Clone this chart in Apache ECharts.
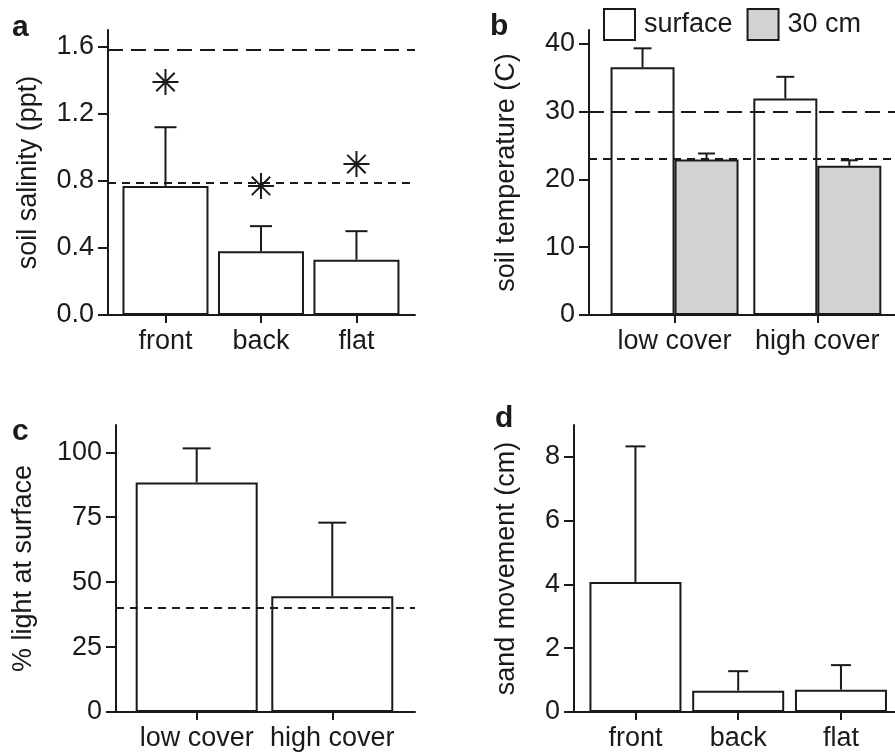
<html>
<head>
<meta charset="utf-8">
<script src="https://cdn.jsdelivr.net/npm/echarts@6/dist/echarts.min.js"></script>
<style>
  body { margin: 0; background: #fff; }
  #main { width: 895px; height: 752px; }
</style>
</head>
<body>
<div id="main"></div>
<script>
  // panel a - salinity
  var dunes = ['front', 'back', 'flat'];
  var salinity = [0.77, 0.38, 0.33];
  var salinitySE = [0.35, 0.15, 0.17];
  var salinityStar = [1.39, 0.77, 0.90];
  var salinityRefs = [1.58, 0.79];
  // panel b - temperature
  var covers = ['low cover', 'high cover'];
  var tempSurface = [36.5, 31.9];
  var tempSurfaceSE = [2.8, 3.2];
  var temp30 = [22.9, 22.0];
  var temp30SE = [0.9, 0.8];
  var tempRefs = [30, 23];
  // panel c - light
  var light = [88.4, 44.6];
  var lightSE = [13.1, 28.3];
  var lightRef = 40;
  // panel d - sand movement
  var sand = [4.08, 0.67, 0.70];
  var sandSE = [4.25, 0.61, 0.77];

  var ink = '#1a1a1a';
  var fnt = "'Liberation Sans', Arial, sans-serif";
  var fs = 27;

  function pairs(vals) {
    return vals.map(function (v, i) { return [i, v]; });
  }
  function triples(vals, se) {
    return vals.map(function (v, i) { return [i, v, se[i]]; });
  }

  function errorBars(idx, vals, se, cap, dx) {
    return {
      type: 'custom',
      xAxisIndex: idx, yAxisIndex: idx,
      z: 5,
      silent: true,
      data: triples(vals, se),
      renderItem: function (params, api) {
        var x = api.value(0), m = api.value(1), s = api.value(2);
        var p0 = api.coord([x, m]);
        var p1 = api.coord([x, m + s]);
        var st = { stroke: ink, lineWidth: 2 };
        return {
          type: 'group',
          children: [
            { type: 'line', shape: { x1: p0[0] + dx, y1: p0[1], x2: p1[0] + dx, y2: p1[1] }, style: st },
            { type: 'line', shape: { x1: p1[0] + dx - cap / 2, y1: p1[1], x2: p1[0] + dx + cap / 2, y2: p1[1] }, style: st }
          ]
        };
      }
    };
  }

  function refLines(vals, types) {
    return {
      silent: true,
      symbol: 'none',
      label: { show: false },
      data: vals.map(function (v, i) {
        return { yAxis: v, lineStyle: { color: ink, width: 2, type: types[i] } };
      })
    };
  }

  function xAx(idx, names, min, max) {
    var ticks = names.map(function (n, i) { return i; });
    return {
      type: 'value', gridIndex: idx, min: min, max: max,
      splitLine: { show: false },
      axisLine: { onZero: false, lineStyle: { color: ink, width: 2 } },
      axisTick: { show: true, length: 8, customValues: ticks, lineStyle: { color: ink, width: 2 } },
      axisLabel: {
        customValues: ticks, margin: 13, color: ink, fontSize: fs, fontFamily: fnt,
        formatter: function (v) { return names[Math.round(v)]; }
      }
    };
  }

  function yAx(idx, name, gap, max, ticks, dec) {
    return {
      type: 'value', gridIndex: idx, min: 0, max: max,
      name: name, nameLocation: 'middle', nameGap: gap,
      nameTextStyle: { color: ink, fontSize: fs, fontFamily: fnt },
      splitLine: { show: false },
      axisLine: { show: true, onZero: false, lineStyle: { color: ink, width: 2 } },
      axisTick: { show: true, length: 10, customValues: ticks, lineStyle: { color: ink, width: 2 } },
      axisLabel: {
        customValues: ticks, margin: 14, color: ink, fontSize: fs, fontFamily: fnt,
        formatter: function (v) { return v.toFixed(dec); }
      }
    };
  }

  var barStyle = { color: '#fff', borderColor: ink, borderWidth: 2 };
  var grayStyle = { color: '#d2d2d2', borderColor: ink, borderWidth: 2 };
  var starPath = 'path://M12,0V24M0,12H24M3.5,3.5L20.5,20.5M3.5,20.5L20.5,3.5';

  var myChart = echarts.init(document.getElementById('main'));
  myChart.setOption({
    animation: false,
    textStyle: { fontFamily: fnt },
    title: [
      { text: 'a', left: 12, top: 13 },
      { text: 'b', left: 490, top: 12 },
      { text: 'c', left: 12, top: 417 },
      { text: 'd', left: 495, top: 404 }
    ].map(function (t) {
      t.padding = 0;
      t.textStyle = { fontSize: 30, fontWeight: 'bold', color: ink, fontFamily: fnt };
      return t;
    }),
    legend: {
      left: 603, top: 8, padding: 0,
      itemWidth: 31, itemHeight: 31, itemGap: 14,
      icon: 'rect',
      data: ['surface', '30 cm'],
      textStyle: { fontSize: fs, color: ink, fontFamily: fnt, padding: [0, 0, 0, 4] }
    },
    grid: [
      { left: 108, top: 30, width: 307, height: 285 },
      { left: 589, top: 30, width: 306, height: 285 },
      { left: 116, top: 425, width: 299, height: 287 },
      { left: 574, top: 425, width: 321, height: 287 }
    ],
    xAxis: [
      xAx(0, dunes, -0.602, 2.613),
      xAx(1, covers, -0.599, 1.544),
      xAx(2, covers, -0.595, 1.61),
      xAx(3, dunes, -0.598, 2.526)
    ],
    yAxis: [
      yAx(0, 'soil salinity (ppt)', 66, 1.7, [0, 0.4, 0.8, 1.2, 1.6], 1),
      yAx(1, 'soil temperature (C)', 69, 42, [0, 10, 20, 30, 40], 0),
      yAx(2, '% light at surface', 79, 110.5, [0, 25, 50, 75, 100], 0),
      yAx(3, 'sand movement (cm)', 54, 9, [0, 2, 4, 6, 8], 0)
    ],
    series: [
      {
        name: 'salinity', type: 'bar', xAxisIndex: 0, yAxisIndex: 0,
        barWidth: 86, itemStyle: barStyle, data: pairs(salinity),
        markLine: refLines(salinityRefs, [[15, 8], [8, 6]])
      },
      errorBars(0, salinity, salinitySE, 22, 0),
      {
        name: 'sig', type: 'scatter', xAxisIndex: 0, yAxisIndex: 0,
        symbol: starPath, symbolSize: 26, z: 6,
        itemStyle: { color: 'rgba(0,0,0,0)', borderColor: ink, borderWidth: 2, opacity: 1 },
        data: pairs(salinityStar)
      },
      {
        name: 'surface', type: 'bar', xAxisIndex: 1, yAxisIndex: 1,
        barWidth: 64, barGap: '0%', itemStyle: barStyle, data: pairs(tempSurface),
        markLine: refLines(tempRefs, [[15, 8], [8, 6]])
      },
      {
        name: '30 cm', type: 'bar', xAxisIndex: 1, yAxisIndex: 1,
        barWidth: 64, barGap: '0%', itemStyle: grayStyle, data: pairs(temp30)
      },
      errorBars(1, tempSurface, tempSurfaceSE, 18, -32),
      errorBars(1, temp30, temp30SE, 17, 32),
      {
        name: 'light', type: 'bar', xAxisIndex: 2, yAxisIndex: 2,
        barWidth: 122, itemStyle: barStyle, data: pairs(light),
        markLine: refLines([lightRef], [[8, 6]])
      },
      errorBars(2, light, lightSE, 28, 0),
      {
        name: 'sand', type: 'bar', xAxisIndex: 3, yAxisIndex: 3,
        barWidth: 92, itemStyle: barStyle, data: pairs(sand)
      },
      errorBars(3, sand, sandSE, 20, 0)
    ]
  });
</script>
</body>
</html>
